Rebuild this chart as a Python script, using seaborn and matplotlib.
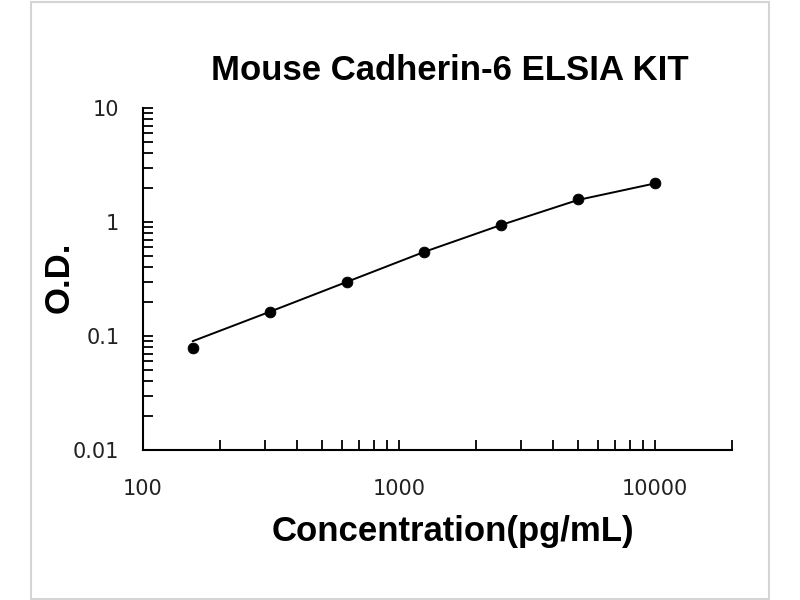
import matplotlib
matplotlib.use("Agg")
import matplotlib.pyplot as plt
import matplotlib.patches as mpatches
import pandas as pd
import seaborn as sns

# --- Dados ---
concentracao = [156.25, 312.5, 625, 1250, 2500, 5000, 10000]
od_medido = [0.079, 0.162, 0.298, 0.546, 0.94, 1.58, 2.18]
od_curva = [0.090, 0.163, 0.298, 0.545, 0.94, 1.56, 2.18]

titulo = 'Mouse Cadherin-6 ELSIA KIT'
rotulo_x = 'Concentration(pg/mL)'
rotulo_y = 'O.D.'
x_ticks = [100, 1000, 10000]
y_ticks = [0.01, 0.1, 1, 10]

df = pd.DataFrame({'conc': concentracao, 'od': od_medido, 'curva': od_curva})

sns.set_theme(style="ticks")
plt.rcParams['font.family'] = ['Liberation Sans', 'DejaVu Sans']
plt.rcParams['text.color'] = 'black'
plt.rcParams['axes.labelcolor'] = 'black'

fig = plt.figure(figsize=(8, 6), dpi=100)
fig.patches.append(mpatches.Rectangle((31 / 800, 1 / 600), 738 / 800, 597 / 600,
                                      transform=fig.transFigure, fill=False,
                                      edgecolor='#d4d4d4', linewidth=1.5))
ax = fig.add_axes([143 / 800, 150 / 600, 589 / 800, 342 / 600])

sns.lineplot(data=df, x='conc', y='curva', color='black', linewidth=1.4, ax=ax)
sns.scatterplot(data=df, x='conc', y='od', color='black', s=60, edgecolor='black', ax=ax, zorder=3)

ax.set_xscale('log')
ax.set_yscale('log')
ax.set_xlim(100, 20000)
ax.set_ylim(0.01, 10)
ax.set_xticks(x_ticks)
ax.set_xticklabels([str(v) for v in x_ticks])
ax.set_yticks(y_ticks)
ax.set_yticklabels(['0.01', '0.1', '1', '10'])

for s in ['top', 'right']:
    ax.spines[s].set_visible(False)
for s in ['left', 'bottom']:
    ax.spines[s].set_color('black')
    ax.spines[s].set_linewidth(1.5)

ax.tick_params(which='both', direction='in', color='black', width=1.3, length=7)
ax.tick_params(axis='x', which='both', pad=21, labelsize=15)
ax.tick_params(axis='y', which='both', pad=17, labelsize=15)
for lbl in ax.get_xticklabels() + ax.get_yticklabels():
    lbl.set_family(['DejaVu Sans'])
    lbl.set_color('#222222')

ax.set_xlabel(rotulo_x, fontsize=25, fontweight='bold')
ax.set_ylabel(rotulo_y, fontsize=25, fontweight='bold')
ax.xaxis.set_label_coords(0.526, -0.19)
ax.yaxis.set_label_coords(-0.115, 0.506)
fig.text(450 / 800, 1 - 70 / 600, titulo, fontsize=25, fontweight='bold',
         ha='center', va='center')

plt.savefig('out.png', dpi=100)
